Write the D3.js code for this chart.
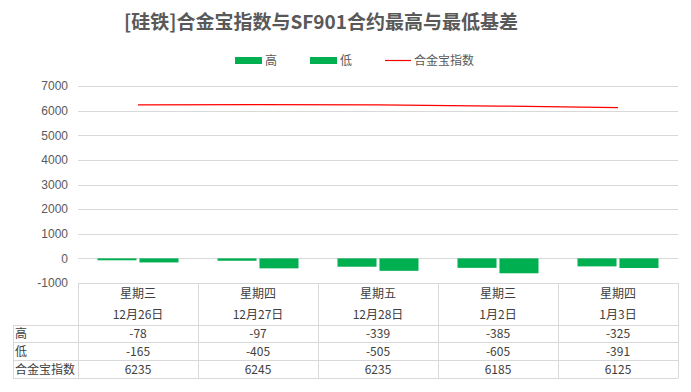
<!DOCTYPE html>
<html><head><meta charset="utf-8">
<script src="https://cdn.jsdelivr.net/npm/d3@7"></script>
<style>
body{margin:0;background:#fff;}
svg{display:block;font-family:"Noto Sans CJK SC","Noto Sans",sans-serif;}
</style></head>
<body><svg id="c" width="691" height="392"></svg>
<script>
const weekdays = ["星期三","星期四","星期五","星期三","星期四"];
const dates = ["12月26日","12月27日","12月28日","1月2日","1月3日"];
const high = [-78,-97,-339,-385,-325];
const low = [-165,-405,-505,-605,-391];
const index = [6235,6245,6235,6185,6125];
const yTicks = [-1000,0,1000,2000,3000,4000,5000,6000,7000];
const seriesNames = ["高","低","合金宝指数"];
const title = "[硅铁]合金宝指数与SF901合约最高与最低基差";

(function(){
const svg = d3.select("#c");
const left = 78, right = 678;
const green = "#00b050", grid = "#d9d9d9", txt = "#595959";

const x = d3.scaleBand().domain(d3.range(weekdays.length)).range([left, right]).padding(0);
const y = d3.scaleLinear().domain([-1000, 7000]).range([283, 86]);
const x1 = d3.scaleBand().domain([0,1]).range([0, x.bandwidth()*0.675]).paddingInner(0.07);
const groupOff = (x.bandwidth() - x.bandwidth()*0.675)/2;

// title
svg.append("text").attr("x", 321).attr("y", 29).attr("text-anchor","middle")
  .attr("font-size", 19).attr("font-weight","bold").attr("fill", txt).text(title);

// legend
const lg = svg.append("g").attr("font-size", 12).attr("fill", txt);
lg.append("rect").attr("x",235).attr("y",57).attr("width",27).attr("height",7).attr("fill",green);
lg.append("text").attr("x",265).attr("y",65).attr("fill",txt).text(seriesNames[0]);
lg.append("rect").attr("x",310).attr("y",57).attr("width",27).attr("height",7).attr("fill",green);
lg.append("text").attr("x",340).attr("y",65).attr("fill",txt).text(seriesNames[1]);
lg.append("line").attr("x1",385).attr("x2",411).attr("y1",60.5).attr("y2",60.5).attr("stroke","#ff0000").attr("stroke-width",1.2);
lg.append("text").attr("x",414).attr("y",65).attr("fill",txt).text(seriesNames[2]);

// gridlines + y labels
const yAxis = d3.axisLeft(y).tickValues(yTicks).tickFormat(d => String(d)).tickSize(0).tickPadding(10);
const ga = svg.append("g").attr("transform", `translate(${left},0)`).call(yAxis);
ga.select(".domain").remove();
ga.selectAll("text").attr("fill", txt).attr("font-size", 12).attr("font-family","Liberation Sans, Arial, sans-serif");
svg.append("g").selectAll("line").data(yTicks.filter(d=>d>-1000)).join("line")
  .attr("x1", left).attr("x2", right).attr("y1", d=>Math.round(y(d))+0.5).attr("y2", d=>Math.round(y(d))+0.5)
  .attr("stroke", grid).attr("stroke-width",1);

// bars
const bars = svg.append("g");
[high, low].forEach((arr, si) => {
  bars.selectAll(null).data(arr).join("rect")
    .attr("x", (d,i)=> x(i) + groupOff + x1(si))
    .attr("width", x1.bandwidth())
    .attr("y", d=> y(Math.max(0,d)))
    .attr("height", d=> Math.abs(y(d)-y(0)))
    .attr("fill", green);
});

// line
const line = d3.line().x((d,i)=> x(i)+x.bandwidth()/2).y(d=>y(d));
svg.append("path").datum(index).attr("d", line).attr("fill","none").attr("stroke","#ff0000").attr("stroke-width",1.3);

// data table
const rowYs = [283, 325, 342, 360, 378];
const tl = 13;
const tg = svg.append("g").attr("stroke", grid).attr("stroke-width",1);
tg.append("line").attr("x1", left).attr("x2", right).attr("y1", 283.5).attr("y2", 283.5);
rowYs.slice(1).forEach(yy => tg.append("line").attr("x1", tl).attr("x2", right).attr("y1", yy+0.5).attr("y2", yy+0.5));
d3.range(weekdays.length+1).forEach(i => {
  const xx = i < weekdays.length ? x(i) : right;
  tg.append("line").attr("x1", xx+0.5).attr("x2", xx+0.5).attr("y1", 283).attr("y2", 378);
});
tg.append("line").attr("x1", tl+0.5).attr("x2", tl+0.5).attr("y1", 325).attr("y2", 378);

const tt = svg.append("g").attr("font-size", 12).attr("fill", "#404040").attr("text-anchor","middle");
weekdays.forEach((w,i)=>{
  const cx = x(i)+x.bandwidth()/2;
  tt.append("text").attr("x",cx).attr("y",298).text(w);
  tt.append("text").attr("x",cx).attr("y",319).text(dates[i]);
});
const rows = [high, low, index];
rows.forEach((arr, r) => {
  const cy = (rowYs[r+1] + rowYs[r+2]) / 2 + 4.5;
  tt.append("text").attr("x", 15).attr("y", cy).attr("text-anchor","start").text(seriesNames[r]);
  arr.forEach((v,i)=>{
    tt.append("text").attr("x", x(i)+x.bandwidth()/2).attr("y", cy).text(v);
  });
});
})();
</script></body></html>
